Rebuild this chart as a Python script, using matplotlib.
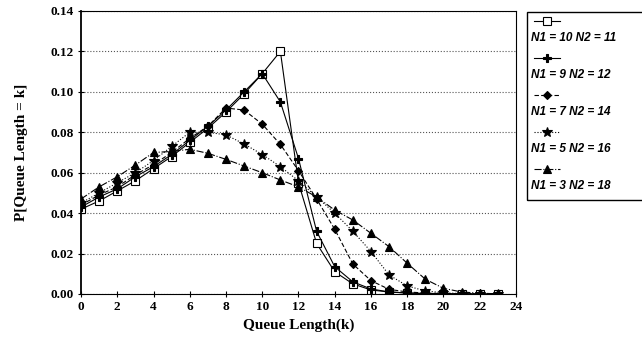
import numpy as np
import matplotlib.pyplot as plt
from matplotlib.lines import Line2D
from matplotlib.patches import Rectangle

k = list(range(24))

# P[Queue Length = k] for each (N1, N2) pair
p_10_11 = [0.042, 0.046, 0.051, 0.056, 0.062, 0.068, 0.075, 0.082, 0.090, 0.099, 0.109, 0.120,
           0.055, 0.025, 0.011, 0.005, 0.002, 0.001, 0.0005, 0.0002, 0.0001, 0.0, 0.0, 0.0]
p_9_12 = [0.043, 0.048, 0.052, 0.058, 0.063, 0.069, 0.076, 0.083, 0.091, 0.100, 0.109, 0.095,
          0.067, 0.031, 0.0135, 0.006, 0.0025, 0.001, 0.0005, 0.0002, 0.0001, 0.0, 0.0, 0.0]
p_7_14 = [0.044, 0.049, 0.053, 0.059, 0.064, 0.070, 0.077, 0.083, 0.092, 0.091, 0.084, 0.074,
          0.061, 0.047, 0.032, 0.0148, 0.0066, 0.0023, 0.001, 0.0005, 0.0002, 0.0001, 0.0, 0.0]
p_5_16 = [0.045, 0.050, 0.055, 0.060, 0.066, 0.073, 0.080, 0.080, 0.0787, 0.0742, 0.069, 0.063,
          0.056, 0.048, 0.040, 0.031, 0.021, 0.0094, 0.004, 0.0015, 0.0006, 0.0002, 0.0001, 0.0]
p_3_18 = [0.047, 0.053, 0.058, 0.0638, 0.070, 0.0705, 0.0716, 0.0696, 0.0666, 0.0633, 0.060, 0.0564,
          0.053, 0.048, 0.0415, 0.0366, 0.030, 0.0234, 0.0152, 0.0073, 0.0028, 0.001, 0.0004, 0.0001]

labels = ['N1 = 10 N2 = 11', 'N1 = 9 N2 = 12', 'N1 = 7 N2 = 14', 'N1 = 5 N2 = 16', 'N1 = 3 N2 = 18']
series = [p_10_11, p_9_12, p_7_14, p_5_16, p_3_18]
styles = [
    dict(marker='s', ls='-', mfc='white', ms=5.5),
    dict(marker='P', ls='-', mfc='black', ms=5.5),
    dict(marker='D', ls=(0, (4, 2)), mfc='black', ms=4.5),
    dict(marker='*', ls=':', mfc='black', ms=7),
    dict(marker='^', ls='-.', mfc='black', ms=5.5),
]

serif = 'Liberation Serif'

fig = plt.figure(figsize=(6.42, 3.37), dpi=100)
ax = fig.add_axes([0.1262, 0.1276, 0.8037 - 0.1262, 0.9674 - 0.1276])

for y, st in zip(series, styles):
    ax.plot(k, y, color='black', lw=0.8, mec='black', mew=0.8, **st)

ax.set_xlim(0, 24)
ax.set_ylim(0, 0.14)
ax.set_xticks(range(0, 25, 2))
ax.set_yticks(np.arange(0, 0.141, 0.02))
ax.set_yticklabels([f'{v:.2f}' for v in np.arange(0, 0.141, 0.02)])
for lab in ax.get_xticklabels() + ax.get_yticklabels():
    lab.set_fontfamily(serif)
    lab.set_fontweight('bold')
    lab.set_fontsize(9.5)
ax.tick_params(direction='inout', length=4, width=0.8, pad=3)

ax.yaxis.grid(True, ls=':', color='#555555', lw=0.8)
ax.set_axisbelow(True)
for s in ax.spines.values():
    s.set_linewidth(0.8)
ax.spines['left'].set_linewidth(1.3)

ax.set_xlabel('Queue Length(k)', fontfamily=serif, fontweight='bold', fontsize=11, labelpad=4)
ax.set_ylabel('P[Queue Length = k]', fontfamily=serif, fontweight='bold', fontsize=11, labelpad=16)

# legend box drawn by hand: handle on one row, label on the next
W, H = 642, 337
fig.add_artist(Rectangle((527 / W, 1 - 200 / H), 130 / W, 188 / H, transform=fig.transFigure,
                         fill=False, ec='black', lw=1.0, clip_on=False))
for i, (lab, st) in enumerate(zip(labels, styles)):
    yh = 1 - (21 + 37 * i) / H
    yl = 1 - (38 + 37 * i) / H
    fig.add_artist(Line2D([534 / W, 560 / W], [yh, yh], transform=fig.transFigure, color='black',
                          lw=0.8, ls=st['ls']))
    fig.add_artist(Line2D([547 / W], [yh], transform=fig.transFigure, color='black', lw=0,
                          mec='black', mew=0.8, marker=st['marker'], mfc=st['mfc'], ms=st['ms']))
    fig.text(531 / W, yl, lab, fontfamily='Liberation Sans', fontstyle='italic', fontweight='bold',
             fontsize=8.5, va='center', ha='left')

fig.savefig('out.png', dpi=100)
